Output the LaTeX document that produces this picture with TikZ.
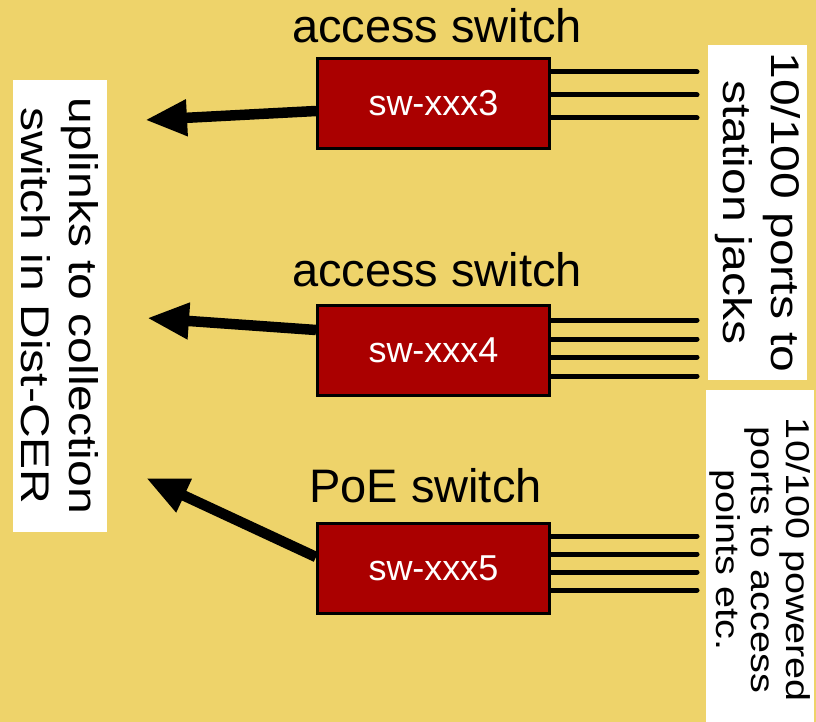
\documentclass[tikz,border=0pt]{standalone}
\usepackage{fontspec}
\setmainfont{Liberation Sans}
\newfontfamily\tallfont[FakeStretch=1.2]{Liberation Sans}
\usetikzlibrary{positioning, arrows.meta}

\definecolor{backyellow}{RGB}{238,211,106}
\definecolor{swred}{RGB}{170,0,0}

\begin{document}
\begin{tikzpicture}
	[x=1pt, y=-1pt,
	 switch/.style={draw, line width=3pt, fill=swred, text=white, minimum width=232pt, minimum height=90pt, font=\fontsize{36}{42}\selectfont},
	 swlabel/.style={inner sep=0pt, font=\fontsize{47}{56}\selectfont},
	 port/.style={line width=5pt, line cap=round},
	 uplink/.style={line width=10.5pt, -{Triangle[length=42pt, width=34pt]}},
	 notebox/.style={fill=white, rotate=-90, align=center, inner sep=0pt}]
   \fill[backyellow] (0,0) rectangle (816,722);
   \useasboundingbox (0,0) rectangle (816,722);
   % switches
   \node[switch] (sw_3) at (433.5,103.5) {sw-xxx3};
   \node[switch] (sw_4) at (433.5,350) {sw-xxx4};
   \node[switch] (sw_5) at (433.5,568.5) {sw-xxx5};
   \node[swlabel] (l_3) [above=13.5pt of sw_3, xshift=3.5pt] {access switch};
   \node[swlabel] (l_4) [above=16.5pt of sw_4, xshift=3.5pt] {access switch};
   \node[swlabel] (l_5) [above=18.5pt of sw_5, xshift=-8pt] {PoE switch};
   % ports
   \foreach \y in {72,95,118}
      \draw[port] (sw_3.east |- 0,\y) -- (697,\y);
   \foreach \y in {320,339,357,376}
      \draw[port] (sw_4.east |- 0,\y) -- (697,\y);
   \foreach \y in {536,554,572,590}
      \draw[port] (sw_5.east |- 0,\y) -- (697,\y);
   % uplinks
   \coordinate (up_3) at (145,120);
   \coordinate (up_4) at (147,318);
   \coordinate (up_5) at (146,478);
   \draw[uplink] (sw_3.west |- 0,111) -- (up_3);
   \draw[uplink] (sw_4.west |- 0,330) -- (up_4);
   \draw[uplink] (sw_5.west |- 0,557) -- (up_5);
   % notes
   \node[notebox, minimum width=452pt, minimum height=94pt, font=\tallfont\fontsize{40}{48}\selectfont]
      (n_up) at (60,306) {uplinks to collection\\switch in Dist-CER};
   \node[notebox, minimum width=335pt, minimum height=99pt, font=\tallfont\fontsize{40}{48}\selectfont]
      (n_jacks) at (757.5,212.5) {10/100 ports to\\station jacks};
   \node[notebox, minimum width=340pt, minimum height=108pt, font=\tallfont\fontsize{33}{35}\selectfont]
      (n_poe) at (760,560) {10/100 powered\\ports to access\\points etc.};
\end{tikzpicture}
\end{document}
